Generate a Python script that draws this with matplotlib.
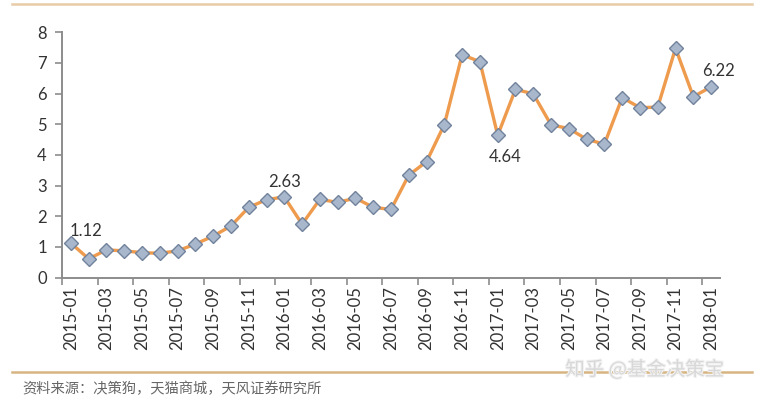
import matplotlib
matplotlib.use("Agg")
import matplotlib.pyplot as plt
from matplotlib.lines import Line2D
import matplotlib.patheffects as pe

# ---- data ----
months = [f"{y}-{m:02d}" for y in (2015, 2016, 2017) for m in range(1, 13)] + ["2018-01"]
values = [1.12, 0.61, 0.90, 0.87, 0.81, 0.79, 0.87, 1.09, 1.35, 1.68, 2.29, 2.54,
          2.63, 1.74, 2.55, 2.45, 2.59, 2.29, 2.22, 3.34, 3.78, 4.99, 7.27, 7.04,
          4.64, 6.14, 5.99, 4.98, 4.86, 4.51, 4.35, 5.87, 5.54, 5.56, 7.48, 5.90,
          6.22]
label_idx = [0, 12, 24, 36]
y_ticks = [0, 1, 2, 3, 4, 5, 6, 7, 8]
source_text = "资料来源：决策狗，天猫商城，天风证券研究所"
watermark = "知乎 @基金决策宝"

plt.rcParams['font.family'] = ['Lato', 'DejaVu Sans']

fig = plt.figure(figsize=(7.57, 4.0), dpi=100)
ax = fig.add_axes([62/757, 122.5/400, (720-62)/757, (277.5-32.3)/400])

x = list(range(len(values)))
ax.plot(x, values, color='#EE9B4E', lw=2.4, zorder=2,
        marker='D', markersize=6.8, markerfacecolor='#A9B7CC',
        markeredgecolor='#71829C', markeredgewidth=1.0)

ax.set_xlim(-0.5, len(values) - 0.5)
ax.set_ylim(0, 8)
ax.set_yticks(y_ticks)
ax.set_yticklabels([str(t) for t in y_ticks], fontsize=12, color='#333333')

# ticks at category boundaries every 2, labels at every other category
ax.set_xticks([i - 0.5 for i in range(0, len(values) + 1, 2)])
ax.set_xticklabels([])
ax.set_xticks(list(range(0, len(values), 2)), minor=True)
ax.set_xticklabels([months[i] for i in range(0, len(values), 2)], minor=True,
                   rotation=90, fontsize=12, color='#333333')
ax.tick_params(axis='x', which='major', direction='out', length=5, width=1.2, color='#8C8C8C')
ax.tick_params(axis='x', which='minor', length=0, pad=6)
ax.tick_params(axis='y', direction='out', length=5, width=1.2, color='#8C8C8C', pad=6)

for s in ('top', 'right'):
    ax.spines[s].set_visible(False)
for s in ('left', 'bottom'):
    ax.spines[s].set_color('#8C8C8C')
    ax.spines[s].set_linewidth(1.4)

offsets = {0: (11, 3), 12: (0, 5), 24: (5, -10), 36: (5, 6)}
for i in label_idx:
    dx, dy = offsets[i]
    ax.annotate(f"{values[i]:.2f}", (x[i], values[i]), xytext=(dx, dy),
                textcoords='offset points', ha='center', va='bottom' if dy > 0 else 'top',
                fontsize=12, color='#333333')

# decorative frame lines
fig.add_artist(Line2D([12/757, 752/757], [1 - 4/400, 1 - 4/400],
                      color='#E8CCA8', lw=1.8, transform=fig.transFigure))
fig.add_artist(Line2D([12/757, 752/757], [1 - 371.5/400, 1 - 371.5/400],
                      color='#D6B583', lw=1.8, transform=fig.transFigure))

fig.text(22/757, 1 - 389/400, source_text, fontsize=10.3, color='#666666',
         va='center', ha='left', family=['Noto Sans CJK SC', 'DejaVu Sans'])
fig.text(645/757, 1 - 370/400, watermark, fontsize=14, color='#D8D8D8',
         va='center', ha='center', family=['Noto Sans CJK SC', 'DejaVu Sans'],
         path_effects=[pe.withStroke(linewidth=1.5, foreground='#F2F2F2')])

fig.savefig('out.png', dpi=100)
